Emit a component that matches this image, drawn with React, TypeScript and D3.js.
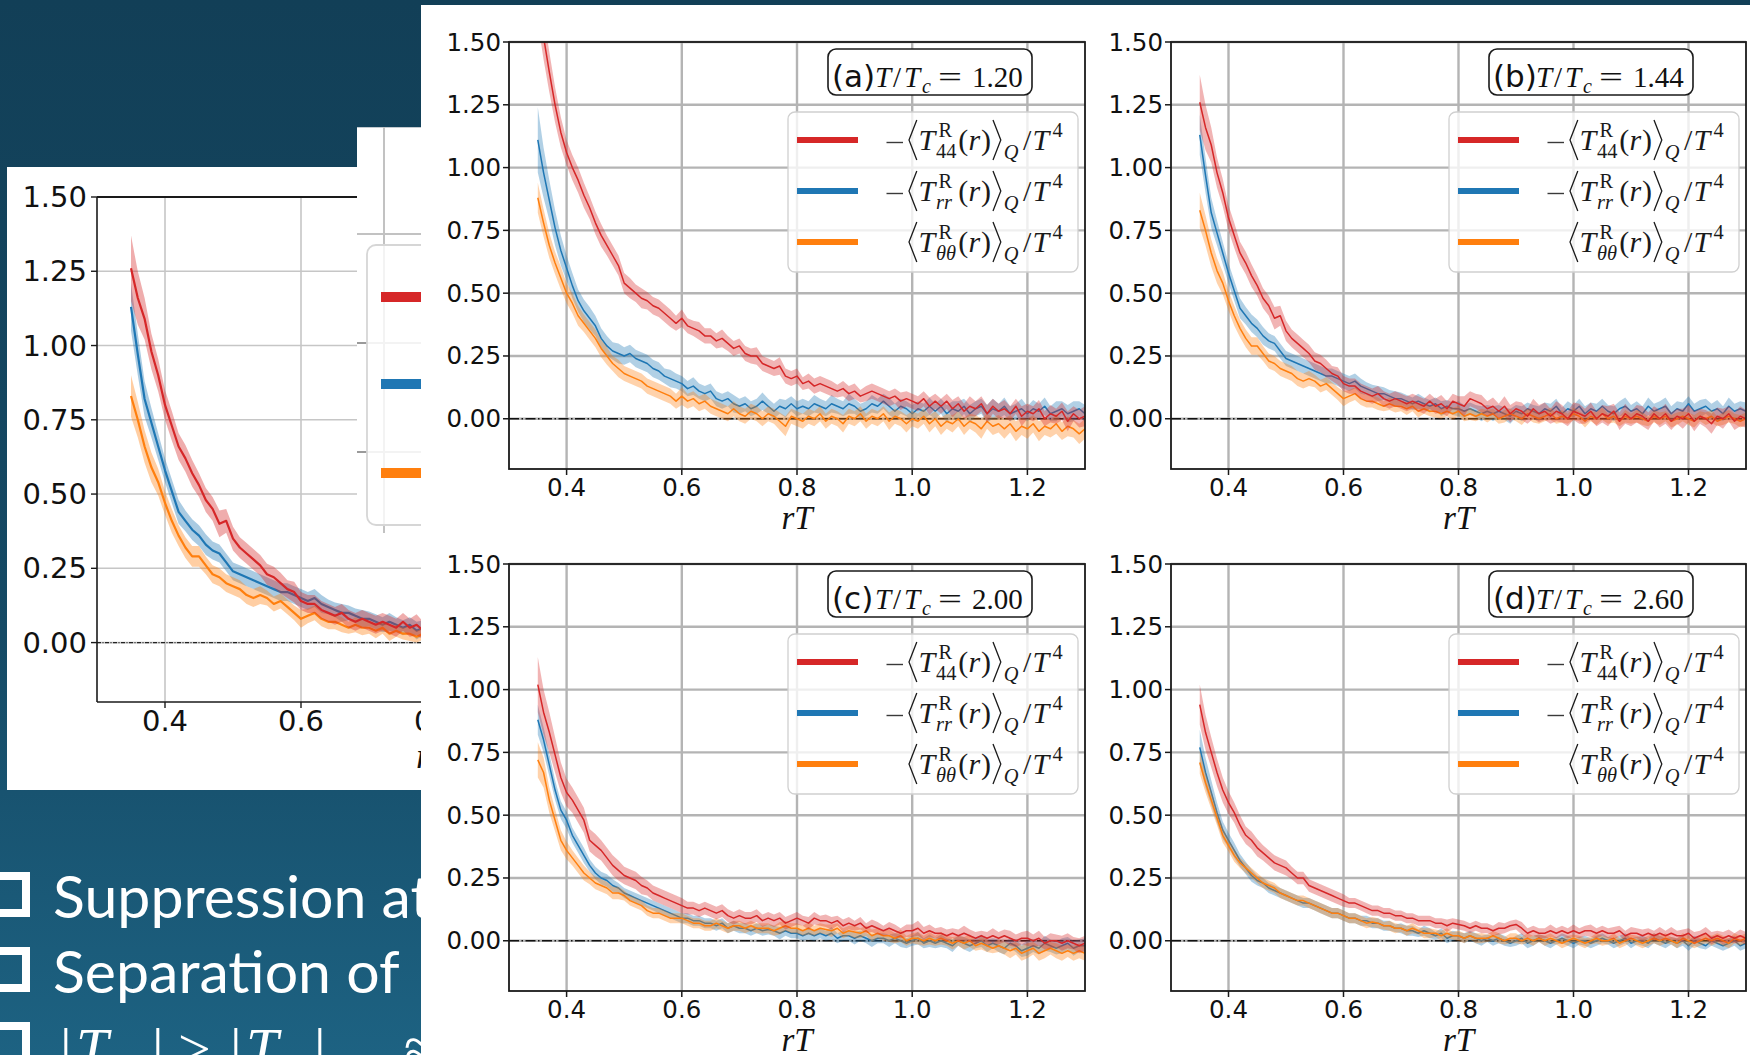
import React from 'react';
import * as d3 from 'd3';

// Sample positions rT shared by every curve
const RT = [
  0.35, 0.36, 0.37, 0.38, 0.39, 0.40, 0.41, 0.42, 0.43, 0.44,
  0.45, 0.46, 0.47, 0.48, 0.49, 0.50, 0.51, 0.52, 0.53, 0.54,
  0.55, 0.56, 0.57, 0.58, 0.59, 0.60, 0.61, 0.62, 0.63, 0.64,
  0.65, 0.66, 0.67, 0.68, 0.69, 0.70, 0.71, 0.72, 0.73, 0.74,
  0.75, 0.76, 0.77, 0.78, 0.79, 0.80, 0.81, 0.82, 0.83, 0.84,
  0.85, 0.86, 0.87, 0.88, 0.89, 0.90, 0.91, 0.92, 0.93, 0.94,
  0.95, 0.96, 0.97, 0.98, 0.99, 1.00, 1.01, 1.02, 1.03, 1.04,
  1.05, 1.06, 1.07, 1.08, 1.09, 1.10, 1.11, 1.12, 1.13, 1.14,
  1.15, 1.16, 1.17, 1.18, 1.19, 1.20, 1.21, 1.22, 1.23, 1.24,
  1.25, 1.26, 1.27, 1.28, 1.29, 1.30,
];

// (a) T/Tc = 1.20
const A_T44 = [
  1.68, 1.52, 1.38, 1.25, 1.14, 1.06, 1.00, 0.95, 0.89, 0.84,
  0.78, 0.73, 0.69, 0.65, 0.61, 0.54, 0.52, 0.50, 0.48, 0.47,
  0.45, 0.44, 0.42, 0.40, 0.38, 0.40, 0.37, 0.36, 0.35, 0.33,
  0.33, 0.31, 0.32, 0.30, 0.28, 0.29, 0.26, 0.25, 0.25, 0.22,
  0.21, 0.20, 0.21, 0.17, 0.16, 0.17, 0.14, 0.15, 0.13, 0.14,
  0.13, 0.12, 0.11, 0.12, 0.10, 0.11, 0.09, 0.10, 0.11, 0.10,
  0.09, 0.08, 0.09, 0.07, 0.08, 0.07, 0.06, 0.08, 0.05, 0.07,
  0.05, 0.07, 0.04, 0.06, 0.03, 0.05, 0.04, 0.06, 0.02, 0.05,
  0.03, 0.04, 0.02, 0.05, 0.01, 0.03, 0.02, 0.04, 0.00, 0.02,
  0.01, 0.03, -0.01, 0.02, 0.00, 0.01,
];
const A_T44_ERR = [
  0.10, 0.09, 0.08, 0.07, 0.06, 0.05, 0.05, 0.05, 0.05, 0.045,
  0.045, 0.045, 0.04, 0.04, 0.04, 0.04, 0.04, 0.035, 0.04, 0.035,
  0.035, 0.035, 0.035, 0.035, 0.03, 0.035, 0.03, 0.03, 0.035, 0.03,
  0.03, 0.03, 0.035, 0.03, 0.03, 0.03, 0.03, 0.03, 0.035, 0.03,
  0.03, 0.03, 0.035, 0.03, 0.03, 0.03, 0.025, 0.03, 0.03, 0.03,
  0.03, 0.03, 0.025, 0.03, 0.03, 0.03, 0.025, 0.03, 0.03, 0.03,
  0.03, 0.03, 0.03, 0.035, 0.03, 0.03, 0.03, 0.03, 0.035, 0.03,
  0.03, 0.03, 0.035, 0.03, 0.03, 0.04, 0.03, 0.03, 0.035, 0.03,
  0.03, 0.035, 0.03, 0.03, 0.04, 0.03, 0.03, 0.035, 0.03, 0.035,
  0.03, 0.035, 0.04, 0.03, 0.035, 0.04,
];
const A_TRR = [
  1.11, 0.98, 0.87, 0.76, 0.67, 0.60, 0.53, 0.47, 0.43, 0.40,
  0.37, 0.32, 0.29, 0.27, 0.26, 0.25, 0.26, 0.24, 0.23, 0.22,
  0.20, 0.19, 0.17, 0.16, 0.15, 0.14, 0.12, 0.13, 0.11, 0.10,
  0.11, 0.08, 0.07, 0.08, 0.06, 0.05, 0.06, 0.04, 0.05, 0.07,
  0.05, 0.03, 0.05, 0.04, 0.06, 0.04, 0.05, 0.04, 0.06, 0.05,
  0.04, 0.06, 0.05, 0.04, 0.06, 0.05, 0.03, 0.04, 0.06, 0.05,
  0.07, 0.05, 0.03, 0.05, 0.04, 0.02, 0.04, 0.03, 0.05, 0.03,
  0.05, 0.02, 0.04, 0.03, 0.05, 0.02, 0.04, 0.05, 0.02, 0.04,
  0.03, 0.05, 0.02, 0.03, 0.04, 0.02, 0.04, 0.03, 0.05, 0.02,
  0.03, 0.04, 0.02, 0.03, 0.04, 0.02,
];
const A_TRR_ERR = [
  0.13, 0.10, 0.08, 0.07, 0.06, 0.05, 0.05, 0.045, 0.045, 0.045,
  0.04, 0.04, 0.04, 0.035, 0.04, 0.035, 0.035, 0.035, 0.035, 0.035,
  0.035, 0.035, 0.03, 0.035, 0.03, 0.03, 0.03, 0.035, 0.03, 0.03,
  0.03, 0.03, 0.03, 0.03, 0.035, 0.03, 0.03, 0.03, 0.03, 0.035,
  0.03, 0.03, 0.03, 0.035, 0.03, 0.03, 0.03, 0.03, 0.035, 0.03,
  0.03, 0.035, 0.03, 0.03, 0.04, 0.03, 0.03, 0.03, 0.035, 0.03,
  0.03, 0.035, 0.03, 0.03, 0.03, 0.035, 0.03, 0.03, 0.035, 0.03,
  0.03, 0.035, 0.03, 0.04, 0.03, 0.035, 0.03, 0.03, 0.035, 0.04,
  0.03, 0.035, 0.03, 0.03, 0.04, 0.03, 0.035, 0.03, 0.035, 0.03,
  0.04, 0.03, 0.035, 0.04, 0.03, 0.035,
];
const A_TTH = [
  0.88, 0.78, 0.69, 0.62, 0.56, 0.50, 0.46, 0.41, 0.38, 0.35,
  0.32, 0.28, 0.25, 0.22, 0.20, 0.18, 0.17, 0.16, 0.15, 0.13,
  0.12, 0.11, 0.10, 0.09, 0.07, 0.09, 0.07, 0.08, 0.06, 0.07,
  0.05, 0.04, 0.03, 0.02, 0.04, 0.02, 0.01, 0.03, 0.02, 0.00,
  0.02, 0.01, -0.01, -0.03, 0.01, 0.00, -0.01, 0.01, 0.00, 0.02,
  -0.01, 0.01, 0.00, -0.02, 0.01, 0.00, 0.02, -0.01, 0.01, 0.00,
  0.02, -0.01, 0.01, 0.00, -0.02, 0.00, -0.01, 0.01, -0.02, 0.00,
  -0.03, -0.01, -0.02, 0.00, -0.03, -0.01, -0.02, -0.04, -0.01, -0.03,
  -0.02, -0.04, -0.02, -0.05, -0.03, -0.04, -0.02, -0.05, -0.03, -0.04,
  -0.02, -0.05, -0.03, -0.04, -0.06, -0.04,
];
const A_TTH_ERR = [
  0.06, 0.055, 0.05, 0.045, 0.045, 0.04, 0.04, 0.04, 0.035, 0.035,
  0.035, 0.035, 0.035, 0.03, 0.035, 0.03, 0.03, 0.03, 0.03, 0.03,
  0.03, 0.03, 0.03, 0.03, 0.03, 0.035, 0.03, 0.03, 0.03, 0.03,
  0.03, 0.03, 0.03, 0.03, 0.03, 0.03, 0.03, 0.03, 0.03, 0.03,
  0.03, 0.03, 0.035, 0.04, 0.03, 0.03, 0.03, 0.03, 0.03, 0.03,
  0.03, 0.03, 0.03, 0.035, 0.03, 0.03, 0.03, 0.03, 0.03, 0.03,
  0.03, 0.035, 0.03, 0.03, 0.035, 0.03, 0.03, 0.03, 0.035, 0.03,
  0.035, 0.03, 0.035, 0.03, 0.035, 0.03, 0.035, 0.04, 0.03, 0.035,
  0.035, 0.04, 0.035, 0.04, 0.035, 0.04, 0.035, 0.04, 0.035, 0.035,
  0.04, 0.035, 0.04, 0.035, 0.04, 0.04,
];

// (b) T/Tc = 1.44
const B_T44 = [
  1.26, 1.16, 1.09, 0.98, 0.90, 0.80, 0.73, 0.66, 0.62, 0.57,
  0.53, 0.48, 0.45, 0.40, 0.41, 0.35, 0.32, 0.30, 0.28, 0.26,
  0.23, 0.22, 0.20, 0.18, 0.17, 0.14, 0.13, 0.13, 0.11, 0.10,
  0.09, 0.10, 0.08, 0.07, 0.08, 0.07, 0.06, 0.07, 0.06, 0.05,
  0.07, 0.05, 0.06, 0.04, 0.07, 0.06, 0.05, 0.08, 0.07, 0.06,
  0.04, 0.05, 0.03, 0.05, 0.02, 0.04, 0.03, 0.01, 0.04, 0.02,
  0.03, 0.01, 0.03, 0.02, 0.00, 0.03, 0.02, 0.01, 0.03, 0.00,
  0.02, 0.01, 0.03, -0.01, 0.02, 0.00, 0.02, 0.01, -0.01, 0.02,
  0.00, 0.02, -0.01, 0.01, 0.00, 0.02, -0.01, 0.01, 0.00, -0.02,
  0.01, 0.00, 0.02, -0.01, 0.01, 0.00,
];
const B_T44_ERR = [
  0.11, 0.09, 0.07, 0.06, 0.055, 0.05, 0.05, 0.045, 0.045, 0.045,
  0.04, 0.04, 0.04, 0.045, 0.04, 0.04, 0.035, 0.035, 0.035, 0.035,
  0.035, 0.035, 0.035, 0.03, 0.035, 0.03, 0.03, 0.03, 0.03, 0.03,
  0.03, 0.03, 0.03, 0.03, 0.03, 0.03, 0.03, 0.03, 0.03, 0.03,
  0.03, 0.03, 0.035, 0.03, 0.03, 0.03, 0.04, 0.03, 0.03, 0.035,
  0.03, 0.035, 0.03, 0.04, 0.035, 0.03, 0.035, 0.03, 0.04, 0.035,
  0.035, 0.03, 0.04, 0.035, 0.03, 0.035, 0.04, 0.03, 0.035, 0.03,
  0.035, 0.04, 0.03, 0.035, 0.04, 0.03, 0.035, 0.04, 0.035, 0.03,
  0.035, 0.04, 0.035, 0.03, 0.04, 0.035, 0.04, 0.03, 0.035, 0.04,
  0.035, 0.04, 0.03, 0.035, 0.04, 0.035,
];
const B_TRR = [
  1.13, 0.97, 0.82, 0.74, 0.66, 0.58, 0.51, 0.44, 0.41, 0.38,
  0.36, 0.33, 0.31, 0.30, 0.27, 0.24, 0.23, 0.22, 0.21, 0.20,
  0.19, 0.18, 0.17, 0.17, 0.16, 0.15, 0.14, 0.15, 0.13, 0.12,
  0.11, 0.10, 0.10, 0.09, 0.08, 0.08, 0.07, 0.06, 0.07, 0.06,
  0.05, 0.06, 0.04, 0.05, 0.04, 0.04, 0.03, 0.04, 0.03, 0.02,
  0.03, 0.02, 0.03, 0.02, 0.01, 0.03, 0.02, 0.04, 0.03, 0.02,
  0.04, 0.03, 0.05, 0.02, 0.04, 0.03, 0.05, 0.02, 0.04, 0.03,
  0.05, 0.03, 0.02, 0.04, 0.05, 0.03, 0.04, 0.02, 0.05, 0.03,
  0.04, 0.05, 0.02, 0.04, 0.03, 0.06, 0.03, 0.04, 0.05, 0.03,
  0.04, 0.02, 0.05, 0.03, 0.04, 0.03,
];
const B_TRR_ERR = [
  0.08, 0.07, 0.06, 0.05, 0.045, 0.04, 0.04, 0.04, 0.035, 0.035,
  0.035, 0.035, 0.03, 0.03, 0.03, 0.03, 0.03, 0.03, 0.03, 0.03,
  0.03, 0.03, 0.03, 0.03, 0.03, 0.03, 0.03, 0.03, 0.03, 0.025,
  0.025, 0.03, 0.025, 0.025, 0.03, 0.025, 0.025, 0.025, 0.03, 0.025,
  0.025, 0.025, 0.03, 0.025, 0.025, 0.03, 0.025, 0.025, 0.025, 0.03,
  0.025, 0.03, 0.025, 0.025, 0.03, 0.025, 0.03, 0.025, 0.025, 0.03,
  0.025, 0.03, 0.03, 0.025, 0.03, 0.025, 0.03, 0.03, 0.025, 0.03,
  0.03, 0.025, 0.03, 0.03, 0.035, 0.025, 0.03, 0.03, 0.035, 0.03,
  0.03, 0.035, 0.03, 0.03, 0.035, 0.03, 0.03, 0.035, 0.03, 0.03,
  0.035, 0.03, 0.035, 0.03, 0.03, 0.035,
];
const B_TTH = [
  0.83, 0.75, 0.66, 0.59, 0.54, 0.47, 0.41, 0.36, 0.32, 0.29,
  0.29, 0.26, 0.23, 0.22, 0.20, 0.19, 0.18, 0.16, 0.15, 0.16,
  0.15, 0.13, 0.14, 0.12, 0.10, 0.08, 0.09, 0.10, 0.08, 0.07,
  0.07, 0.06, 0.05, 0.06, 0.05, 0.05, 0.04, 0.05, 0.03, 0.04,
  0.03, 0.03, 0.02, 0.03, 0.02, 0.03, 0.01, 0.02, 0.01, 0.02,
  0.01, 0.02, 0.00, 0.01, 0.02, 0.01, 0.00, 0.02, 0.01, 0.00,
  0.01, 0.02, 0.00, 0.01, 0.00, 0.02, 0.01, -0.01, 0.01, 0.00,
  0.02, 0.00, 0.01, -0.01, 0.01, 0.00, 0.01, 0.00, -0.01, 0.01,
  0.00, 0.01, -0.01, 0.00, 0.01, 0.00, -0.01, 0.01, 0.00, 0.01,
  -0.01, 0.00, 0.01, 0.00, -0.01, 0.00,
];
const B_TTH_ERR = [
  0.07, 0.06, 0.055, 0.05, 0.045, 0.04, 0.04, 0.035, 0.035, 0.035,
  0.035, 0.03, 0.03, 0.03, 0.03, 0.03, 0.03, 0.03, 0.03, 0.03,
  0.025, 0.025, 0.025, 0.025, 0.025, 0.03, 0.025, 0.025, 0.025, 0.025,
  0.025, 0.025, 0.02, 0.025, 0.025, 0.02, 0.025, 0.02, 0.025, 0.02,
  0.02, 0.025, 0.02, 0.02, 0.025, 0.02, 0.02, 0.025, 0.02, 0.02,
  0.025, 0.02, 0.02, 0.025, 0.02, 0.02, 0.025, 0.02, 0.025, 0.02,
  0.02, 0.025, 0.02, 0.025, 0.02, 0.025, 0.02, 0.025, 0.02, 0.025,
  0.025, 0.02, 0.025, 0.02, 0.025, 0.02, 0.025, 0.025, 0.02, 0.025,
  0.025, 0.02, 0.025, 0.025, 0.02, 0.025, 0.025, 0.02, 0.025, 0.025,
  0.02, 0.025, 0.025, 0.02, 0.025, 0.025,
];

// (c) T/Tc = 2.00
const C_T44 = [
  1.02, 0.91, 0.83, 0.74, 0.65, 0.59, 0.56, 0.52, 0.48, 0.40,
  0.38, 0.36, 0.33, 0.30, 0.28, 0.26, 0.25, 0.24, 0.22, 0.21,
  0.19, 0.18, 0.17, 0.16, 0.15, 0.14, 0.13, 0.13, 0.12, 0.13,
  0.12, 0.11, 0.12, 0.10, 0.09, 0.10, 0.09, 0.09, 0.10, 0.08,
  0.09, 0.08, 0.09, 0.07, 0.08, 0.09, 0.08, 0.07, 0.09, 0.08,
  0.08, 0.07, 0.08, 0.06, 0.07, 0.06, 0.07, 0.05, 0.06, 0.05,
  0.04, 0.05, 0.04, 0.03, 0.04, 0.04, 0.05, 0.03, 0.04, 0.03,
  0.03, 0.02, 0.03, 0.02, 0.03, 0.02, 0.01, 0.02, 0.01, 0.02,
  0.01, 0.02, 0.01, 0.00, 0.01, 0.01, 0.00, 0.01, -0.01, 0.00,
  0.00, -0.01, 0.00, -0.01, -0.02, -0.01,
];
const C_T44_ERR = [
  0.11, 0.09, 0.08, 0.07, 0.06, 0.055, 0.05, 0.05, 0.05, 0.045,
  0.045, 0.04, 0.04, 0.04, 0.04, 0.035, 0.035, 0.035, 0.035, 0.03,
  0.03, 0.03, 0.03, 0.03, 0.03, 0.03, 0.025, 0.025, 0.025, 0.025,
  0.025, 0.025, 0.025, 0.025, 0.025, 0.025, 0.025, 0.025, 0.025, 0.025,
  0.025, 0.025, 0.025, 0.025, 0.025, 0.025, 0.02, 0.025, 0.025, 0.02,
  0.025, 0.025, 0.02, 0.025, 0.025, 0.02, 0.025, 0.02, 0.025, 0.025,
  0.02, 0.025, 0.025, 0.02, 0.025, 0.025, 0.03, 0.025, 0.025, 0.02,
  0.025, 0.025, 0.02, 0.025, 0.03, 0.025, 0.025, 0.02, 0.025, 0.03,
  0.025, 0.025, 0.03, 0.025, 0.025, 0.03, 0.025, 0.03, 0.025, 0.03,
  0.025, 0.03, 0.03, 0.025, 0.03, 0.03,
];
const C_TRR = [
  0.88, 0.80, 0.70, 0.60, 0.52, 0.48, 0.42, 0.38, 0.34, 0.30,
  0.27, 0.25, 0.24, 0.22, 0.21, 0.19, 0.18, 0.17, 0.16, 0.15,
  0.14, 0.13, 0.12, 0.11, 0.10, 0.09, 0.09, 0.08, 0.08, 0.07,
  0.07, 0.06, 0.07, 0.05, 0.06, 0.05, 0.05, 0.04, 0.05, 0.04,
  0.045, 0.04, 0.03, 0.04, 0.03, 0.03, 0.02, 0.03, 0.02, 0.03,
  0.02, 0.03, 0.01, 0.02, 0.02, 0.01, 0.02, 0.01, 0.00, 0.01,
  0.01, 0.00, 0.01, 0.00, -0.01, 0.00, 0.01, -0.01, 0.00, -0.01,
  0.00, -0.01, -0.02, 0.00, -0.01, -0.02, -0.01, 0.00, -0.02, -0.01,
  -0.02, -0.03, -0.01, -0.02, -0.04, -0.03, -0.02, -0.03, -0.01, -0.02,
  -0.03, -0.02, -0.01, -0.03, -0.02, -0.02,
];
const C_TRR_ERR = [
  0.06, 0.05, 0.045, 0.04, 0.035, 0.035, 0.03, 0.03, 0.03, 0.025,
  0.025, 0.025, 0.025, 0.025, 0.02, 0.02, 0.02, 0.02, 0.02, 0.02,
  0.02, 0.02, 0.02, 0.02, 0.02, 0.02, 0.02, 0.02, 0.02, 0.02,
  0.02, 0.02, 0.02, 0.02, 0.02, 0.02, 0.02, 0.02, 0.02, 0.02,
  0.02, 0.02, 0.025, 0.02, 0.02, 0.02, 0.02, 0.025, 0.02, 0.02,
  0.02, 0.025, 0.02, 0.02, 0.02, 0.025, 0.02, 0.02, 0.025, 0.02,
  0.02, 0.025, 0.02, 0.025, 0.02, 0.02, 0.025, 0.02, 0.025, 0.02,
  0.025, 0.02, 0.025, 0.02, 0.025, 0.025, 0.02, 0.025, 0.025, 0.02,
  0.025, 0.025, 0.02, 0.025, 0.025, 0.03, 0.025, 0.025, 0.03, 0.025,
  0.025, 0.03, 0.025, 0.03, 0.025, 0.03,
];
const C_TTH = [
  0.72, 0.67, 0.56, 0.48, 0.40, 0.36, 0.33, 0.30, 0.27, 0.25,
  0.23, 0.22, 0.21, 0.19, 0.19, 0.18, 0.16, 0.15, 0.14, 0.12,
  0.11, 0.11, 0.10, 0.09, 0.09, 0.09, 0.08, 0.07, 0.07, 0.06,
  0.06, 0.07, 0.06, 0.05, 0.06, 0.06, 0.05, 0.06, 0.05, 0.05,
  0.05, 0.04, 0.05, 0.06, 0.05, 0.05, 0.04, 0.05, 0.04, 0.05,
  0.045, 0.04, 0.05, 0.03, 0.04, 0.035, 0.03, 0.04, 0.02, 0.03,
  0.02, 0.02, 0.01, 0.02, 0.00, 0.01, 0.01, 0.00, 0.01, 0.00,
  0.01, 0.00, -0.01, 0.00, -0.01, 0.00, -0.02, -0.01, -0.02, -0.03,
  -0.02, -0.03, -0.04, -0.03, -0.05, -0.04, -0.03, -0.05, -0.04, -0.03,
  -0.04, -0.05, -0.04, -0.05, -0.04, -0.05,
];
const C_TTH_ERR = [
  0.07, 0.06, 0.05, 0.045, 0.04, 0.035, 0.03, 0.03, 0.03, 0.025,
  0.025, 0.025, 0.025, 0.025, 0.025, 0.02, 0.02, 0.02, 0.02, 0.02,
  0.02, 0.02, 0.02, 0.02, 0.02, 0.02, 0.02, 0.02, 0.02, 0.02,
  0.02, 0.02, 0.02, 0.02, 0.02, 0.02, 0.02, 0.02, 0.02, 0.02,
  0.02, 0.02, 0.025, 0.02, 0.02, 0.02, 0.02, 0.025, 0.02, 0.02,
  0.02, 0.025, 0.02, 0.02, 0.02, 0.025, 0.02, 0.02, 0.025, 0.02,
  0.02, 0.025, 0.02, 0.025, 0.02, 0.02, 0.025, 0.02, 0.025, 0.02,
  0.025, 0.02, 0.025, 0.02, 0.025, 0.025, 0.02, 0.025, 0.025, 0.02,
  0.025, 0.025, 0.03, 0.025, 0.03, 0.03, 0.025, 0.03, 0.03, 0.025,
  0.03, 0.03, 0.025, 0.03, 0.03, 0.03,
];

// (d) T/Tc = 2.60
const D_T44 = [
  0.94, 0.83, 0.75, 0.67, 0.60, 0.55, 0.51, 0.46, 0.42, 0.40,
  0.37, 0.35, 0.33, 0.31, 0.30, 0.29, 0.27, 0.25, 0.25, 0.22,
  0.21, 0.20, 0.19, 0.18, 0.17, 0.16, 0.15, 0.15, 0.14, 0.13,
  0.12, 0.12, 0.11, 0.11, 0.10, 0.10, 0.09, 0.09, 0.08, 0.08,
  0.08, 0.07, 0.07, 0.06, 0.07, 0.065, 0.06, 0.05, 0.06, 0.05,
  0.05, 0.04, 0.05, 0.05, 0.06, 0.065, 0.05, 0.03, 0.04, 0.03,
  0.03, 0.04, 0.03, 0.04, 0.03, 0.04, 0.03, 0.04, 0.04, 0.03,
  0.04, 0.03, 0.03, 0.04, 0.02, 0.03, 0.03, 0.02, 0.03, 0.02,
  0.03, 0.02, 0.03, 0.02, 0.02, 0.03, 0.01, 0.02, 0.03, 0.01,
  0.02, 0.01, 0.02, 0.01, 0.02, 0.01,
];
const D_T44_ERR = [
  0.08, 0.07, 0.06, 0.055, 0.05, 0.045, 0.04, 0.04, 0.035, 0.035,
  0.035, 0.03, 0.03, 0.03, 0.03, 0.03, 0.025, 0.025, 0.025, 0.025,
  0.025, 0.025, 0.025, 0.025, 0.025, 0.025, 0.02, 0.02, 0.02, 0.02,
  0.02, 0.02, 0.02, 0.02, 0.02, 0.02, 0.02, 0.02, 0.02, 0.02,
  0.02, 0.02, 0.02, 0.025, 0.02, 0.02, 0.02, 0.02, 0.02, 0.02,
  0.02, 0.02, 0.025, 0.02, 0.02, 0.02, 0.025, 0.02, 0.02, 0.02,
  0.02, 0.025, 0.02, 0.02, 0.02, 0.025, 0.02, 0.02, 0.025, 0.02,
  0.02, 0.02, 0.025, 0.02, 0.02, 0.025, 0.02, 0.025, 0.02, 0.02,
  0.025, 0.02, 0.025, 0.02, 0.025, 0.02, 0.025, 0.02, 0.025, 0.025,
  0.02, 0.025, 0.025, 0.02, 0.025, 0.025,
];
const D_TRR = [
  0.77, 0.67, 0.59, 0.51, 0.44, 0.40, 0.36, 0.32, 0.29, 0.26,
  0.24, 0.23, 0.21, 0.20, 0.19, 0.18, 0.17, 0.16, 0.15, 0.15,
  0.14, 0.13, 0.12, 0.11, 0.11, 0.10, 0.09, 0.09, 0.08, 0.08,
  0.07, 0.07, 0.06, 0.06, 0.05, 0.05, 0.04, 0.04, 0.03, 0.04,
  0.03, 0.02, 0.03, 0.01, 0.02, 0.02, 0.01, 0.02, 0.01, 0.00,
  0.01, 0.00, 0.01, 0.00, -0.01, 0.00, 0.01, -0.01, 0.00, 0.01,
  0.00, -0.01, 0.00, 0.01, 0.00, -0.01, 0.00, 0.00, -0.01, 0.00,
  0.01, 0.00, -0.01, 0.00, 0.01, -0.01, 0.00, 0.00, -0.01, 0.01,
  0.00, -0.01, 0.00, -0.01, 0.00, -0.02, 0.00, -0.01, -0.02, 0.00,
  -0.01, -0.02, -0.01, 0.00, -0.02, -0.01,
];
const D_TRR_ERR = [
  0.07, 0.06, 0.05, 0.04, 0.035, 0.03, 0.03, 0.025, 0.025, 0.025,
  0.02, 0.02, 0.02, 0.02, 0.02, 0.02, 0.02, 0.02, 0.02, 0.02,
  0.02, 0.02, 0.02, 0.02, 0.02, 0.02, 0.02, 0.02, 0.02, 0.02,
  0.02, 0.02, 0.02, 0.02, 0.015, 0.02, 0.02, 0.02, 0.015, 0.02,
  0.02, 0.015, 0.02, 0.02, 0.02, 0.015, 0.02, 0.02, 0.02, 0.02,
  0.015, 0.02, 0.02, 0.02, 0.015, 0.02, 0.02, 0.02, 0.02, 0.015,
  0.02, 0.02, 0.015, 0.02, 0.02, 0.02, 0.015, 0.02, 0.02, 0.02,
  0.02, 0.015, 0.02, 0.02, 0.02, 0.02, 0.015, 0.02, 0.02, 0.02,
  0.02, 0.02, 0.015, 0.02, 0.02, 0.02, 0.02, 0.02, 0.015, 0.02,
  0.02, 0.02, 0.02, 0.02, 0.02, 0.02,
];
const D_TTH = [
  0.71, 0.63, 0.56, 0.49, 0.42, 0.38, 0.34, 0.31, 0.29, 0.27,
  0.25, 0.23, 0.22, 0.21, 0.19, 0.18, 0.17, 0.16, 0.16, 0.15,
  0.14, 0.13, 0.12, 0.11, 0.11, 0.10, 0.09, 0.09, 0.08, 0.07,
  0.075, 0.07, 0.06, 0.06, 0.05, 0.05, 0.04, 0.05, 0.04, 0.03,
  0.03, 0.03, 0.02, 0.03, 0.02, 0.02, 0.01, 0.02, 0.01, 0.01,
  0.01, 0.02, 0.01, 0.00, 0.01, 0.01, 0.00, 0.01, 0.00, 0.01,
  0.00, 0.01, 0.00, -0.01, 0.00, 0.01, 0.00, -0.01, 0.00, 0.01,
  0.00, 0.00, 0.01, -0.01, 0.00, 0.01, 0.00, -0.01, 0.00, 0.01,
  0.00, 0.01, 0.00, -0.01, 0.01, 0.00, -0.01, 0.00, 0.01, 0.00,
  0.01, 0.00, -0.01, 0.01, 0.00, 0.01,
];
const D_TTH_ERR = [
  0.045, 0.04, 0.035, 0.03, 0.03, 0.025, 0.025, 0.02, 0.02, 0.02,
  0.02, 0.02, 0.02, 0.02, 0.02, 0.02, 0.02, 0.02, 0.02, 0.02,
  0.02, 0.02, 0.02, 0.02, 0.02, 0.02, 0.02, 0.02, 0.02, 0.02,
  0.02, 0.02, 0.015, 0.02, 0.02, 0.015, 0.02, 0.02, 0.015, 0.02,
  0.02, 0.015, 0.02, 0.02, 0.015, 0.02, 0.02, 0.015, 0.02, 0.02,
  0.015, 0.02, 0.02, 0.015, 0.02, 0.02, 0.015, 0.02, 0.02, 0.015,
  0.02, 0.02, 0.015, 0.02, 0.02, 0.015, 0.02, 0.02, 0.015, 0.02,
  0.02, 0.015, 0.02, 0.02, 0.02, 0.015, 0.02, 0.02, 0.02, 0.02,
  0.02, 0.02, 0.015, 0.02, 0.02, 0.02, 0.02, 0.02, 0.02, 0.02,
  0.02, 0.02, 0.02, 0.02, 0.02, 0.02,
];

const PANEL_TAGS = ['(a)', '(b)', '(c)', '(d)'];
const PANEL_RATIOS = ['1.20', '1.44', '2.00', '2.60'];
const Y_TICKS = [0, 0.25, 0.5, 0.75, 1.0, 1.25, 1.5];
const Y_TICK_LABELS = ['0.00', '0.25', '0.50', '0.75', '1.00', '1.25', '1.50'];
const X_TICKS = [0.4, 0.6, 0.8, 1.0, 1.2];
const X_TICK_LABELS = ['0.4', '0.6', '0.8', '1.0', '1.2'];
const BULLETS = ['Suppression at', 'Separation of'];

const RED = '#d62728';
const BLUE = '#1f77b4';
const ORANGE = '#ff7f0e';

type Curve = { values: number[]; errs: number[]; color: string };

const SERIES_SETS: Curve[][] = [
  [
    { values: A_TRR, errs: A_TRR_ERR, color: BLUE },
    { values: A_TTH, errs: A_TTH_ERR, color: ORANGE },
    { values: A_T44, errs: A_T44_ERR, color: RED },
  ],
  [
    { values: B_TRR, errs: B_TRR_ERR, color: BLUE },
    { values: B_TTH, errs: B_TTH_ERR, color: ORANGE },
    { values: B_T44, errs: B_T44_ERR, color: RED },
  ],
  [
    { values: C_TRR, errs: C_TRR_ERR, color: BLUE },
    { values: C_TTH, errs: C_TTH_ERR, color: ORANGE },
    { values: C_T44, errs: C_T44_ERR, color: RED },
  ],
  [
    { values: D_TRR, errs: D_TRR_ERR, color: BLUE },
    { values: D_TTH, errs: D_TTH_ERR, color: ORANGE },
    { values: D_T44, errs: D_T44_ERR, color: RED },
  ],
];

const SANS = "'DejaVu Sans', sans-serif";
const SERIF = "'Liberation Serif', 'DejaVu Serif', serif";

function Curves({ x, y, curves, lw, bandOpacity }: {
  x: d3.ScaleLinear<number, number>; y: d3.ScaleLinear<number, number>;
  curves: Curve[]; lw: number; bandOpacity: number;
}) {
  return (
    <g>
      {curves.map((c, k) => {
        const area = d3.area<number>()
          .x((_, i) => x(RT[i]))
          .y0((v, i) => y(v - c.errs[i]))
          .y1((v, i) => y(v + c.errs[i]));
        const line = d3.line<number>().x((_, i) => x(RT[i])).y((v) => y(v));
        return (
          <g key={k}>
            <path d={area(c.values) ?? ''} fill={c.color} opacity={bandOpacity} stroke="none" />
            <path d={line(c.values) ?? ''} fill="none" stroke={c.color} strokeWidth={lw} strokeLinejoin="round" />
          </g>
        );
      })}
    </g>
  );
}

// One stress-tensor legend entry: ±<T^R_sub(r)>_Q / T^4
function StressLabel({ x0, y0, sub, minus }: { x0: number; y0: number; sub: string; minus: boolean }) {
  const f = 30;
  const s = f * 0.68;
  const X = (e: number) => x0 + e * f;
  const Y = (e: number) => y0 + e * f;
  return (
    <g fill="#1a1a1a" fontFamily={SERIF}>
      {minus && (
        <line x1={X(0.05)} x2={X(0.6)} y1={Y(-0.25)} y2={Y(-0.25)} stroke="#3a3a3a" strokeWidth={1.4} />
      )}
      <path d={`M${X(1.06)},${Y(-1.0)}L${X(0.8)},${Y(-0.33)}L${X(1.06)},${Y(0.33)}`} fill="none" stroke="#1a1a1a" strokeWidth={1.3} />
      <text x={X(1.12)} y={y0} fontSize={f} fontStyle="italic">T</text>
      <text x={X(1.78)} y={Y(-0.42)} fontSize={s}>R</text>
      <text x={X(1.7)} y={Y(0.27)} fontSize={s} fontStyle={sub === '44' ? 'normal' : 'italic'}>{sub}</text>
      <text x={X(2.44)} y={y0} fontSize={f}>(</text>
      <text x={X(2.78)} y={y0} fontSize={f} fontStyle="italic">r</text>
      <text x={X(3.2)} y={y0} fontSize={f}>)</text>
      <path d={`M${X(3.6)},${Y(-1.0)}L${X(3.86)},${Y(-0.33)}L${X(3.6)},${Y(0.33)}`} fill="none" stroke="#1a1a1a" strokeWidth={1.3} />
      <text x={X(3.96)} y={Y(0.3)} fontSize={s} fontStyle="italic">Q</text>
      <text x={X(4.6)} y={y0} fontSize={f}>/</text>
      <text x={X(4.92)} y={y0} fontSize={f} fontStyle="italic">T</text>
      <text x={X(5.58)} y={Y(-0.42)} fontSize={s}>4</text>
    </g>
  );
}

function Panel({ idx, left, top, width, height }: { idx: number; left: number; top: number; width: number; height: number }) {
  const right = left + width;
  const bottom = top + height;
  const x = d3.scaleLinear().domain([0.3, 1.3]).range([left, right]);
  const y = d3.scaleLinear().domain([-0.2, 1.5]).range([bottom, top]);
  const clipId = `panel-clip-${idx}`;
  const bx = right - 257;
  const by = top + 7;
  const base = by + 38;
  const legendRows = [
    { color: RED, sub: '44', minus: true },
    { color: BLUE, sub: 'rr', minus: true },
    { color: ORANGE, sub: 'θθ', minus: false },
  ];
  return (
    <g>
      <defs>
        <clipPath id={clipId}>
          <rect x={left} y={top} width={width} height={height} />
        </clipPath>
      </defs>
      {/* grid */}
      <g stroke="#b4b4b4" strokeWidth={2.4}>
        {X_TICKS.map((t) => (
          <line key={`gx${t}`} x1={x(t)} x2={x(t)} y1={top} y2={bottom} />
        ))}
        {Y_TICKS.map((t) => (
          <line key={`gy${t}`} x1={left} x2={right} y1={y(t)} y2={y(t)} />
        ))}
      </g>
      <line x1={left} x2={right} y1={y(0)} y2={y(0)} stroke="#111" strokeWidth={1.4} strokeDasharray="10 2.5 1.5 2.5" />
      <g clipPath={`url(#${clipId})`}>
        <Curves x={x} y={y} curves={SERIES_SETS[idx]} lw={1.5} bandOpacity={0.35} />
      </g>
      {/* spines */}
      <rect x={left} y={top} width={width} height={height} fill="none" stroke="#1a1a1a" strokeWidth={1.8} />
      {/* ticks + labels */}
      <g stroke="#1a1a1a" strokeWidth={1.5}>
        {Y_TICKS.map((t) => (
          <line key={`ty${t}`} x1={left - 6} x2={left} y1={y(t)} y2={y(t)} />
        ))}
        {X_TICKS.map((t) => (
          <line key={`tx${t}`} x1={x(t)} x2={x(t)} y1={bottom} y2={bottom + 6} />
        ))}
      </g>
      <g fontFamily={SANS} fontSize={24.5} fill="#111">
        {Y_TICKS.map((t, i) => (
          <text key={`ly${t}`} x={left - 8} y={y(t)} textAnchor="end" dominantBaseline="central">{Y_TICK_LABELS[i]}</text>
        ))}
        {X_TICKS.map((t, i) => (
          <text key={`lx${t}`} x={x(t)} y={bottom + 27} textAnchor="middle">{X_TICK_LABELS[i]}</text>
        ))}
      </g>
      <text x={(left + right) / 2} y={bottom + 60} textAnchor="middle" fontFamily={SERIF} fontStyle="italic" fontSize={33} fill="#111">rT</text>
      {/* panel tag box */}
      <rect x={bx} y={by} width={204} height={46} rx={8} fill="#fff" stroke="#1a1a1a" strokeWidth={1.6} />
      <text x={bx + 4} y={base} fontFamily={SANS} fontSize={31} fill="#111">{PANEL_TAGS[idx]}</text>
      <g fontFamily={SERIF} fill="#111">
        <text x={bx + 47} y={base} fontSize={29} fontStyle="italic">T</text>
        <text x={bx + 65} y={base} fontSize={29}>/</text>
        <text x={bx + 76} y={base} fontSize={29} fontStyle="italic">T</text>
        <text x={bx + 94} y={base + 6} fontSize={20} fontStyle="italic">c</text>
        <text x={bx + 110} y={base} fontSize={30} textLength={24} lengthAdjust="spacingAndGlyphs">=</text>
        <text x={bx + 144} y={base} fontSize={29}>{PANEL_RATIOS[idx]}</text>
      </g>
      {/* legend */}
      <rect x={right - 297} y={top + 70} width={290} height={160} rx={7} fill="#fff" fillOpacity={0.78} stroke="#d0d0d0" strokeWidth={1.3} />
      {legendRows.map((r, i) => {
        const ry = top + 98 + i * 51;
        return (
          <g key={r.sub}>
            <line x1={right - 288} x2={right - 227} y1={ry} y2={ry} stroke={r.color} strokeWidth={6} />
            <StressLabel x0={right - 200} y0={ry + 10} sub={r.sub} minus={r.minus} />
          </g>
        );
      })}
    </g>
  );
}

// Larger copy of the T/Tc = 1.44 figure sitting behind the panels
function BackChart() {
  const left = 97, right = 777, top = 197, bottom = 702;
  const x = d3.scaleLinear().domain([0.3, 1.3]).range([left, right]);
  const y = d3.scaleLinear().domain([-0.2, 1.5]).range([bottom, top]);
  const xt = [0.4, 0.6, 0.8];
  const xl = ['0.4', '0.6', '0.8'];
  return (
    <g>
      <defs>
        <clipPath id="back-card">
          <rect x={7} y={167} width={414} height={623} />
        </clipPath>
        <clipPath id="back-axes">
          <rect x={left} y={top} width={right - left} height={bottom - top} />
        </clipPath>
      </defs>
      <rect x={7} y={167} width={414} height={623} fill="#fff" />
      <g clipPath="url(#back-card)">
        <g stroke="#c6c6c6" strokeWidth={1.6}>
          {xt.map((t) => <line key={t} x1={x(t)} x2={x(t)} y1={top} y2={bottom} />)}
          {Y_TICKS.map((t) => <line key={t} x1={left} x2={right} y1={y(t)} y2={y(t)} />)}
        </g>
        <line x1={left} x2={right} y1={y(0)} y2={y(0)} stroke="#222" strokeWidth={1.2} strokeDasharray="4 1.5 1 1.5" />
        <g clipPath="url(#back-axes)">
          <Curves x={x} y={y} curves={SERIES_SETS[1]} lw={2.2} bandOpacity={0.38} />
        </g>
        <line x1={left} x2={left} y1={top} y2={bottom} stroke="#1a1a1a" strokeWidth={1.6} />
        <line x1={left} x2={right} y1={top} y2={top} stroke="#1a1a1a" strokeWidth={1.8} />
        <line x1={left} x2={right} y1={bottom} y2={bottom} stroke="#1a1a1a" strokeWidth={1.6} />
        <g stroke="#1a1a1a" strokeWidth={1.4}>
          {Y_TICKS.map((t) => <line key={t} x1={left - 6} x2={left} y1={y(t)} y2={y(t)} />)}
          {xt.map((t) => <line key={t} x1={x(t)} x2={x(t)} y1={bottom} y2={bottom + 6} />)}
        </g>
        <g fontFamily={SANS} fontSize={29} fill="#111">
          {Y_TICKS.map((t, i) => (
            <text key={t} x={left - 10} y={y(t)} textAnchor="end" dominantBaseline="central">{Y_TICK_LABELS[i]}</text>
          ))}
          {xt.map((t, i) => (
            <text key={t} x={x(t)} y={bottom + 29} textAnchor="middle">{xl[i]}</text>
          ))}
        </g>
        <text x={433} y={768} textAnchor="middle" fontFamily={SERIF} fontStyle="italic" fontSize={36} fill="#111">rT</text>
      </g>
    </g>
  );
}

// Narrow strip of a further figure (grid + legend swatches) between the two charts
function MiddleStrip() {
  return (
    <g>
      <defs>
        <clipPath id="mid-strip">
          <rect x={357} y={127} width={64} height={406} />
        </clipPath>
      </defs>
      <rect x={357} y={127} width={64} height={406} fill="#fff" />
      <g clipPath="url(#mid-strip)">
        <line x1={357} x2={421} y1={126.5} y2={126.5} stroke="#0e2f42" strokeWidth={1.5} />
        <g stroke="#c2c2c2" strokeWidth={2}>
          <line x1={384} x2={384} y1={127} y2={533} />
          <line x1={357} x2={421} y1={234} y2={234} />
          <line x1={357} x2={421} y1={343} y2={343} />
          <line x1={357} x2={421} y1={452} y2={452} />
        </g>
        <g stroke="#9a9a9a" strokeWidth={2}>
          <line x1={357} x2={367} y1={343} y2={343} />
          <line x1={357} x2={367} y1={452} y2={452} />
        </g>
        <rect x={367} y={245} width={90} height={280} rx={9} fill="#fff" fillOpacity={0.8} stroke="#d6d6d6" strokeWidth={1.8} />
        <rect x={381} y={292} width={50} height={10} fill={RED} />
        <rect x={381} y={379} width={50} height={10} fill={BLUE} />
        <rect x={381} y={468} width={50} height={10} fill={ORANGE} />
      </g>
    </g>
  );
}

function Bullets() {
  const rows = [918, 993, 1068];
  return (
    <g>
      <defs>
        <clipPath id="bullet-clip">
          <rect x={0} y={0} width={421} height={1055} />
        </clipPath>
      </defs>
      <g clipPath="url(#bullet-clip)">
        {rows.map((b) => (
          <rect key={b} x={-14} y={b - 42} width={40} height={37} fill="none" stroke="#ffffff" strokeWidth={8} />
        ))}
        <g fontFamily="Lato, 'Open Sans', sans-serif" fontSize={59} fill="#ffffff">
          {BULLETS.map((t, i) => (
            <text key={t} x={53} y={rows[i]}>{t}</text>
          ))}
        </g>
        <g fontFamily={SERIF} fontSize={58} fill="#ffffff">
          <text x={60} y={rows[2]}>|</text>
          <text x={76} y={rows[2]} fontStyle="italic">T</text>
          <text x={110} y={rows[2] + 14} fontSize={34}>44</text>
          <text x={152} y={rows[2]}>|</text>
          <text x={178} y={rows[2]}>&gt;</text>
          <text x={230} y={rows[2]}>|</text>
          <text x={246} y={rows[2]} fontStyle="italic">T</text>
          <text x={280} y={rows[2] + 14} fontSize={34} fontStyle="italic">rr</text>
          <text x={314} y={rows[2]}>|</text>
          <text x={404} y={rows[2]}>≈</text>
        </g>
      </g>
    </g>
  );
}

export default function App() {
  const W = 1750;
  const H = 1055;
  return (
    <svg width={W} height={H} viewBox={`0 0 ${W} ${H}`} style={{ position: 'absolute', left: 0, top: 0, display: 'block' }}>
      <defs>
        <linearGradient id="slide-bg" x1="0" y1="0" x2="0" y2="1">
          <stop offset="0" stopColor="#123f57" />
          <stop offset="0.6" stopColor="#154a65" />
          <stop offset="1" stopColor="#1d6282" />
        </linearGradient>
      </defs>
      <rect x={0} y={0} width={W} height={H} fill="url(#slide-bg)" />
      <Bullets />
      <BackChart />
      <MiddleStrip />
      <rect x={421} y={5} width={W - 421} height={H - 5} fill="#ffffff" />
      <Panel idx={0} left={509} top={42} width={576} height={427} />
      <Panel idx={1} left={1171} top={42} width={575} height={427} />
      <Panel idx={2} left={509} top={564} width={576} height={427} />
      <Panel idx={3} left={1171} top={564} width={575} height={427} />
    </svg>
  );
}
